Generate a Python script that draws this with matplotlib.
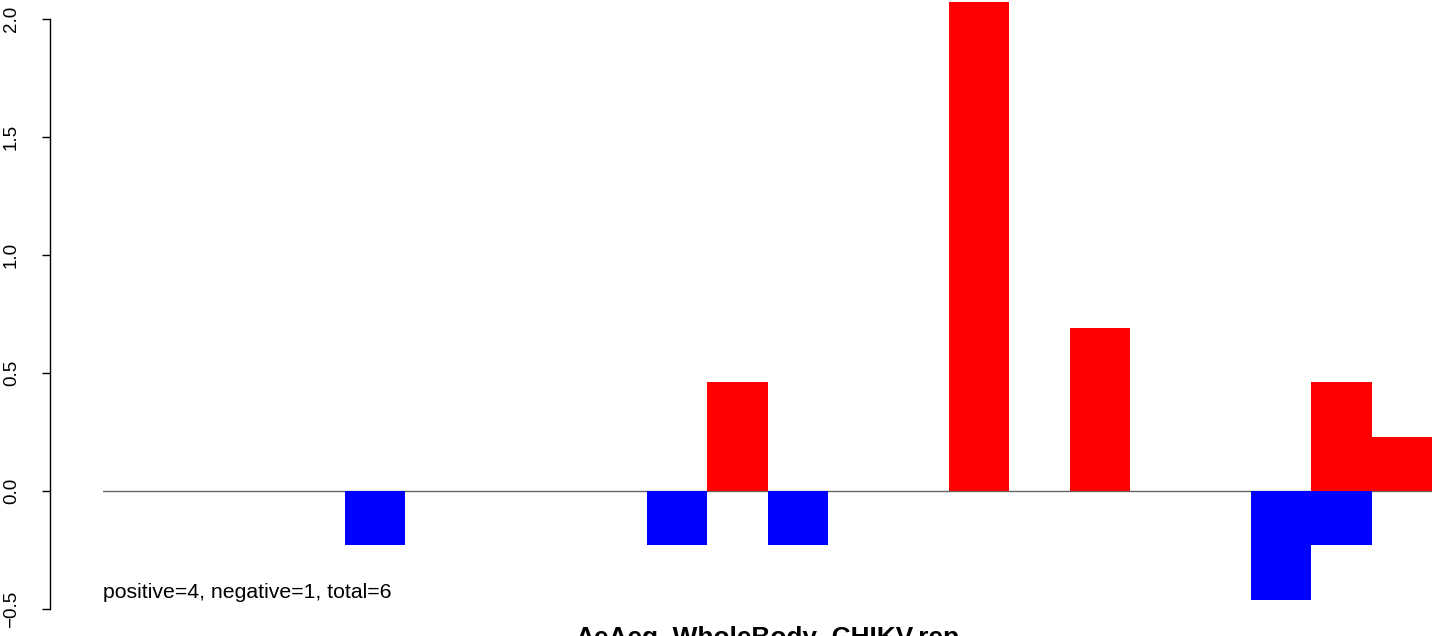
import numpy as np
import matplotlib
matplotlib.use('Agg')
import matplotlib.pyplot as plt

plt.rcParams['font.family'] = ['Liberation Sans', 'DejaVu Sans']

# slot values (22 slots), positive scores drawn red, negative blue
n_slots = 22
pos_values = [0, 0, 0, 0, 0, 0, 0, 0, 0, 0, 0.46, 0, 0, 0, 2.07, 0, 0.69, 0, 0, 0, 0.46, 0.23]
neg_values = [0, 0, 0, 0, -0.23, 0, 0, 0, 0, -0.23, 0, -0.23, 0, 0, 0, 0, 0, 0, 0, -0.46, -0.23, 0]
y_ticks = [-0.5, 0.0, 0.5, 1.0, 1.5, 2.0]
y_tick_labels = ['\u22120.5', '0.0', '0.5', '1.0', '1.5', '2.0']
summary = 'positive=4, negative=1, total=6'
title = 'AeAeg_WholeBody_CHIKV.rep'

W, H = 1444, 636
PT = 72 / 100  # points per pixel
fig = plt.figure(figsize=(W / 100, H / 100), dpi=100)

# axes placed in pixel terms: data x 0..22 spans px 103..1432
x0, x1 = 103, 1432
ax = fig.add_axes([x0 / W, 0, (x1 - x0) / W, 1])
ax.set_xlim(0, n_slots)
# y: 0 at px 491, 2.0 at px 19
ppu = (491 - 19) / 2.0
ax.set_ylim((491 - H) / ppu, 491 / ppu)

x = np.arange(n_slots)
ax.bar(x, pos_values, width=1.0, align='edge', color='#ff0000', linewidth=0)
ax.bar(x, neg_values, width=1.0, align='edge', color='#0000ff', linewidth=0)
ax.axhline(0, color='#666666', linewidth=1.0, zorder=0)

for s in ['top', 'right', 'bottom']:
    ax.spines[s].set_visible(False)
ax.spines['left'].set_position(('outward', 53 * PT))
ax.spines['left'].set_bounds(-0.5, 2.0)
ax.spines['left'].set_linewidth(1.0)
ax.set_xticks([])
ax.set_yticks(y_ticks)
ax.set_yticklabels(y_tick_labels, rotation=90, va='center', fontsize=13.5)
ax.tick_params(axis='y', length=8 * PT, width=1.0, pad=22 * PT)
ax.patch.set_visible(False)

ax.text(0, -0.453, summary, fontsize=15.3, ha='left', va='baseline')
fig.text((x0 + x1) / 2 / W, 1 - 645 / H, title, fontsize=18.9, fontweight='bold',
         ha='center', va='baseline')

fig.savefig('out.png', dpi=100)
